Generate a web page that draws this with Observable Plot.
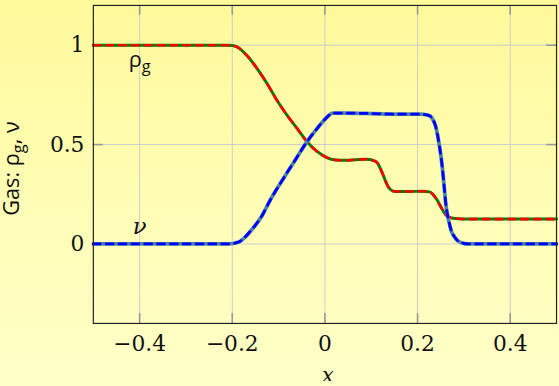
<!DOCTYPE html>
<html>
<head>
<meta charset="utf-8">
<script src="https://cdn.jsdelivr.net/npm/d3@7"></script>
<script src="https://cdn.jsdelivr.net/npm/@observablehq/plot@0.6"></script>
<style>
  html, body {
    margin: 0;
    padding: 0;
    width: 559px;
    height: 386px;
    overflow: hidden;
    background: linear-gradient(to bottom, #fff99a 0%, #fffdb4 50%, #ffffc8 100%);
  }
  #chart svg { display: block; }
</style>
</head>
<body>
<div id="chart"></div>
<script>
// Sod shock tube: gas density and velocity profiles
const densityX = [-0.5, -0.21, -0.2, -0.189, -0.168, -0.146, -0.125, -0.104, -0.0825, -0.061,
  -0.04, -0.0185, 0.003, 0.024, 0.045, 0.067, 0.088, 0.106, 0.114, 0.12,
  0.126, 0.131, 0.136, 0.141, 0.147, 0.152, 0.18, 0.209, 0.226, 0.232,
  0.237, 0.243, 0.248, 0.253, 0.258, 0.263, 0.269, 0.278, 0.287, 0.3, 0.5];
const densityV = [1, 1, 0.998, 0.99, 0.947, 0.881, 0.807, 0.724, 0.65, 0.584,
  0.518, 0.468, 0.436, 0.422, 0.421, 0.424, 0.426, 0.419, 0.405, 0.378,
  0.345, 0.315, 0.29, 0.275, 0.266, 0.264, 0.264, 0.265, 0.262, 0.252,
  0.238, 0.218, 0.196, 0.175, 0.155, 0.142, 0.134, 0.129, 0.127, 0.125, 0.125];

const velocityX = [-0.5, -0.21, -0.204, -0.193, -0.182, -0.172, -0.161, -0.15, -0.139, -0.118,
  -0.09, -0.065, -0.04, -0.0185, -0.003, 0.003, 0.01, 0.017, 0.045, 0.1,
  0.152, 0.207, 0.218, 0.228, 0.234, 0.239, 0.243, 0.246, 0.25, 0.253,
  0.257, 0.261, 0.266, 0.27, 0.273, 0.28, 0.287, 0.295, 0.308, 0.5];
const velocityV = [0, 0, 0.001, 0.005, 0.015, 0.035, 0.064, 0.095, 0.13, 0.221,
  0.328, 0.419, 0.51, 0.576, 0.62, 0.634, 0.65, 0.658, 0.658, 0.656,
  0.653, 0.653, 0.65, 0.642, 0.622, 0.592, 0.55, 0.51, 0.45, 0.394,
  0.3, 0.2, 0.13, 0.09, 0.064, 0.035, 0.015, 0.006, 0, 0];

const xTicks = [-0.4, -0.2, 0, 0.2, 0.4];
const yTicks = [0, 0.5, 1];
const xDomain = [-0.5, 0.5];
const yDomain = [-0.4, 1.2];

const rhoLabel = [{x: -0.4, y: 0.925, text: "ρg"}];
const nuLabel = [{x: -0.4, y: 0.085, text: "ν"}];
const yAxisLabel = "Gas: ρg, ν";
const xAxisLabel = "x";

const density = densityX.map((x, i) => ({x, v: densityV[i]}));
const velocity = velocityX.map((x, i) => ({x, v: velocityV[i]}));

const W = 566, H = 386;
const mL = 94, mR = 3, mT = 5, mB = 59;
const frameW = W - mL - mR, frameH = H - mT - mB;
const tickLen = 10;
const serif = "DejaVu Serif";
const sans = "Open Sans";
const fmt = d => d < 0 ? "\u2212" + Math.abs(d) : String(d);

const chart = Plot.plot({
  width: W,
  height: H,
  marginLeft: mL,
  marginRight: mR,
  marginTop: mT,
  marginBottom: mB,
  style: {background: "transparent", fontFamily: serif, fontSize: "22px", color: "#111"},
  x: {domain: xDomain},
  y: {domain: yDomain},
  marks: [
    // grid
    Plot.ruleX(xTicks, {stroke: "#cccccc", strokeWidth: 1}),
    Plot.ruleY(yTicks, {stroke: "#cccccc", strokeWidth: 1}),
    // inward ticks on all four sides
    Plot.ruleX(xTicks, {stroke: "#999", strokeWidth: 1.6, insetTop: frameH - tickLen}),
    Plot.ruleX(xTicks, {stroke: "#999", strokeWidth: 1.6, insetBottom: frameH - tickLen}),
    Plot.ruleY(yTicks, {stroke: "#999", strokeWidth: 1.6, insetRight: frameW - tickLen}),
    Plot.ruleY(yTicks, {stroke: "#999", strokeWidth: 1.6, insetLeft: frameW - tickLen}),
    // density
    Plot.line(density, {x: "x", y: "v", stroke: "#008000", strokeWidth: 3, curve: "monotone-x"}),
    Plot.line(density, {x: "x", y: "v", stroke: "#ff0000", strokeWidth: 2.6, strokeDasharray: "7,6", curve: "monotone-x"}),
    // velocity
    Plot.line(velocity, {x: "x", y: "v", stroke: "#4a83a6", strokeWidth: 3.8, curve: "monotone-x"}),
    Plot.line(velocity, {x: "x", y: "v", stroke: "#0000ff", strokeWidth: 2.8, strokeDasharray: "7,6", curve: "monotone-x"}),
    Plot.frame({stroke: "#222", strokeWidth: 1.2}),
    Plot.axisX(xTicks, {tickSize: 0, tickPadding: 12, tickFormat: fmt, label: null, fontSize: 22, fontFamily: serif}),
    Plot.axisY(yTicks, {tickSize: 0, tickPadding: 9, tickFormat: fmt, label: null, fontSize: 22, fontFamily: serif}),
    // curve labels
    Plot.text(rhoLabel, {x: "x", y: "y", text: "text", fontFamily: sans, fontSize: 22}),
    Plot.text(nuLabel, {x: "x", y: "y", text: "text", fontFamily: serif, fontStyle: "italic", fontSize: 23}),
    // axis titles
    Plot.text([xAxisLabel], {frameAnchor: "bottom", dx: 3, dy: 59, lineAnchor: "bottom", fontFamily: serif, fontStyle: "italic", fontSize: 21}),
    Plot.text([yAxisLabel], {frameAnchor: "bottom-left", dx: -75, dy: -109, textAnchor: "start", rotate: -90, fontFamily: sans, fontSize: 22})
  ]
});

// typeset the subscript g in ρg
d3.select(chart).selectAll("text").each(function () {
  const t = this.textContent;
  const i = t.indexOf("ρg");
  if (i < 0) return;
  const sel = d3.select(this);
  sel.text(null);
  sel.append("tspan").text(t.slice(0, i + 1));
  sel.append("tspan").attr("dy", "5px").attr("font-size", "0.75em").text("g");
  if (t.length > i + 2) sel.append("tspan").attr("dy", "-5px").text(t.slice(i + 2));
});

document.getElementById("chart").append(chart);
</script>
</body>
</html>
